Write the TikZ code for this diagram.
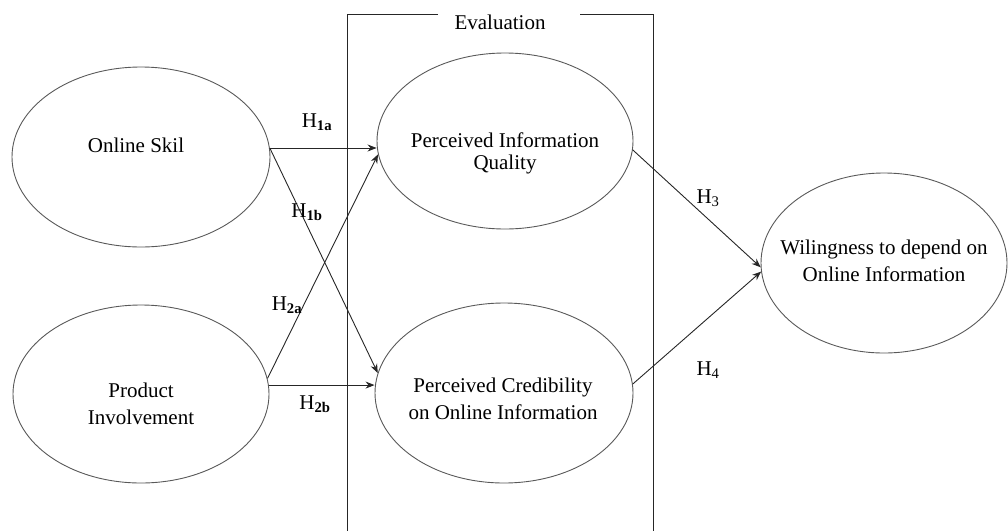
\documentclass[tikz,border=0pt]{standalone}
\usepackage{fontspec}
\setmainfont{Liberation Serif}
\usetikzlibrary{shapes.geometric,arrows.meta}
\begin{document}
\begin{tikzpicture}[x=1pt,y=-1pt,
  every node/.style={font=\fontsize{21}{27}\selectfont},
  construct/.style={ellipse,draw=black!65,line width=0.9pt,inner sep=0pt},
  ctext/.style={align=center,inner sep=0pt},
  path/.style={draw=black!85,line width=0.9pt,-{Stealth[length=9pt,width=7pt]}},
  hyp/.style={inner sep=1pt},
  frame/.style={draw=black!85,line width=1pt}]
\useasboundingbox (0,0) rectangle (1008,531);
% evaluation frame
\draw[frame] (438,14) -- (347,14) -- (347,531);
\draw[frame] (580,14) -- (653,14) -- (653,531);
\node (eval) at (500,22) {Evaluation};
% constructs
\node[construct,minimum width=258pt,minimum height=180pt] (os) at (141,157) {};
\node[construct,minimum width=256pt,minimum height=178pt] (pi) at (141,394) {};
\node[construct,minimum width=256pt,minimum height=176pt] (piq) at (505,141) {};
\node[construct,minimum width=258pt,minimum height=180pt] (pc) at (504,393) {};
\node[construct,minimum width=246pt,minimum height=180pt] (wil) at (884,263) {};
% construct texts
\node[ctext] (ost) at (136,145) {Online Skil};
\node[ctext] (pit) at (141,404) {Product\\Involvement};
\node[ctext,font=\fontsize{21}{22}\selectfont] (piqt) at (505,153) {Perceived Information\\Quality};
\node[ctext] (pct) at (503,399) {Perceived Credibility\\on Online Information};
\node[ctext] (wilt) at (884,261) {Wilingness to depend on\\Online Information};
% paths
\draw[path] (os.4) -- (os.4 -| piq.west);
\draw[path] (os.4) -- (pc.171);
\draw[path] (pi.7) -- (piq.186);
\draw[path] (pi.4) -- (pi.4 -| pc.west);
\draw[path] (piq.-4) -- (wil.182);
\draw[path] (pc.4) -- (wil.184);
% hypothesis labels
\node[hyp] (h1a) at (317,122) {H\textsubscript{\bfseries 1a}};
\node[hyp] (h1b) at (307,212) {H\textsubscript{\bfseries 1b}};
\node[hyp] (h2a) at (287,305) {H\textsubscript{\bfseries 2a}};
\node[hyp] (h2b) at (315,404) {H\textsubscript{\bfseries 2b}};
\node[hyp] (h3) at (708,198) {H\textsubscript{3}};
\node[hyp] (h4) at (708,370) {H\textsubscript{4}};
\end{tikzpicture}
\end{document}
